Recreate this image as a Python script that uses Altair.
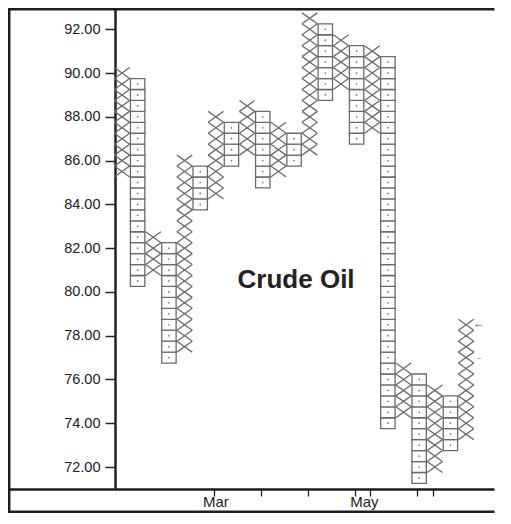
import altair as alt
import numpy as np
import pandas as pd

# ---- data (point & figure, box size 0.50) ----
col_type = ["X", "O", "X", "O", "X", "O", "X", "O", "X", "O", "X", "O",
            "X", "O", "X", "O", "X", "O", "X", "O", "X", "O", "X"]
col_high = [90.0, 89.5, 82.5, 82.0, 86.0, 85.5, 88.0, 87.5, 88.5, 88.0, 87.5, 87.0,
            92.5, 92.0, 91.5, 91.0, 91.0, 90.5, 76.5, 76.0, 75.5, 75.0, 78.5]
col_low = [85.5, 80.5, 81.0, 77.0, 77.5, 84.0, 84.5, 86.0, 86.5, 85.0, 85.5, 86.0,
           86.5, 89.0, 89.5, 87.0, 87.5, 74.0, 74.5, 71.5, 72.0, 73.0, 73.5]
box_size = 0.5
y_ticks = [72, 74, 76, 78, 80, 82, 84, 86, 88, 90, 92]
x_tick_cols = [7, 10, 13, 16, 17, 20, 21]
month_labels = ["Mar", "May"]
month_cols = [7, 16.5]
title_text = "Crude Oil"

# ---- build boxes ----
rows = []
for i, (t, hi, lo) in enumerate(zip(col_type, col_high, col_low)):
    n = int(round((hi - lo) / box_size)) + 1
    for k in range(n):
        p = lo + k * box_size
        rows.append({"col": i + 1, "price": p, "type": t})
df = pd.DataFrame(rows)
df["lo"] = df["price"] - box_size / 2
df["hi"] = df["price"] + box_size / 2
df["xl"] = df["col"] - 0.46
df["xr"] = df["col"] + 0.46
df["xl2"] = df["col"] - 0.49
df["xr2"] = df["col"] + 0.49

W, H = 380, 481
xscale = alt.Scale(domain=[0.552, 24.85], nice=False, zero=False)
yscale = alt.Scale(domain=[70.995, 92.973], nice=False, zero=False)
GRAY = "#6b6b6b"
INK = "#222222"
FRAME = "#1e1e1e"

xaxis = alt.Axis(values=[c - 0.12 for c in x_tick_cols], labels=False, domain=False,
                 grid=False, ticks=True, tickSize=7, tickWidth=1.3,
                 tickColor=INK, title=None)
yaxis = alt.Axis(values=y_ticks, format=".2f", grid=False, title=None,
                 domainColor=INK, domainWidth=2.5, tickColor=INK,
                 tickWidth=1.5, tickSize=10, labelPadding=5,
                 labelFont="Liberation Sans", labelFontSize=14.5,
                 labelColor=INK)

o_df = df[df["type"] == "O"]
x_df = df[df["type"] == "X"]

boxes = alt.Chart(o_df).mark_rect(fill="white", stroke=GRAY, strokeWidth=1.3).encode(
    x=alt.X("xl:Q", scale=xscale, axis=xaxis), x2="xr:Q",
    y=alt.Y("lo:Q", scale=yscale, axis=yaxis), y2="hi:Q",
)

dots = alt.Chart(o_df).mark_point(filled=True, size=3, color="#777777", opacity=1).encode(
    x=alt.X("col:Q", scale=xscale, axis=xaxis),
    y=alt.Y("price:Q", scale=yscale, axis=yaxis),
)

x1 = alt.Chart(x_df).mark_rule(color=GRAY, strokeWidth=1.3).encode(
    x=alt.X("xl2:Q", scale=xscale, axis=xaxis), x2="xr2:Q",
    y=alt.Y("lo:Q", scale=yscale, axis=yaxis), y2="hi:Q",
)
x2 = alt.Chart(x_df).mark_rule(color=GRAY, strokeWidth=1.3).encode(
    x=alt.X("xl2:Q", scale=xscale, axis=xaxis), x2="xr2:Q",
    y=alt.Y("hi:Q", scale=yscale, axis=yaxis), y2="lo:Q",
)

title_df = pd.DataFrame({"t": [title_text], "c": [12.13], "p": [80.18]})
title = alt.Chart(title_df).mark_text(
    font="Liberation Sans", fontSize=26, fontWeight="bold", color=INK,
    align="center", baseline="alphabetic"
).encode(x=alt.X("c:Q", scale=xscale, axis=xaxis),
         y=alt.Y("p:Q", scale=yscale, axis=yaxis), text="t:N")

month_df = pd.DataFrame({"m": month_labels, "c": month_cols})
months = alt.Chart(month_df).mark_text(
    font="Liberation Sans", fontSize=15, color=INK, align="center", baseline="alphabetic"
).encode(x=alt.X("c:Q", scale=xscale, axis=xaxis), y=alt.value(H + 18), text="m:N")

marks_df = pd.DataFrame({"s": ["\u2190", "\u2013"], "c": [23.8, 23.85], "p": [78.5, 77.0]})
side = alt.Chart(marks_df).mark_text(
    font="DejaVu Sans", fontSize=9, color="#888888", align="center", baseline="middle"
).encode(x=alt.X("c:Q", scale=xscale, axis=xaxis),
         y=alt.Y("p:Q", scale=yscale, axis=yaxis), text="s:N")

one = pd.DataFrame({"a": [0]})
frame_top = alt.Chart(one).mark_rule(color=FRAME, strokeWidth=2.5).encode(
    x=alt.value(-107), x2=alt.value(W - 0.5), y=alt.value(1.2))
frame_left = alt.Chart(one).mark_rule(color=FRAME, strokeWidth=2.5).encode(
    x=alt.value(-105.8), y=alt.value(0), y2=alt.value(H + 23.5))
frame_mid = alt.Chart(one).mark_rule(color=FRAME, strokeWidth=2.5).encode(
    x=alt.value(-107), x2=alt.value(W - 0.5), y=alt.value(H + 0.5))
frame_bot = alt.Chart(one).mark_rule(color=FRAME, strokeWidth=2.5).encode(
    x=alt.value(-107), x2=alt.value(W - 0.5), y=alt.value(H + 22.7))

chart = alt.layer(
    boxes, dots, x1, x2, title, months, side,
    frame_top, frame_left, frame_mid, frame_bot
).properties(
    width=W, height=H,
    autosize=alt.AutoSizeParams(type="none"),
    padding={"left": 107, "top": 0, "right": 0, "bottom": 24},
    background="white",
).configure_view(stroke=None)

chart.save("out.html", embed_options={"renderer": "svg", "actions": False})
